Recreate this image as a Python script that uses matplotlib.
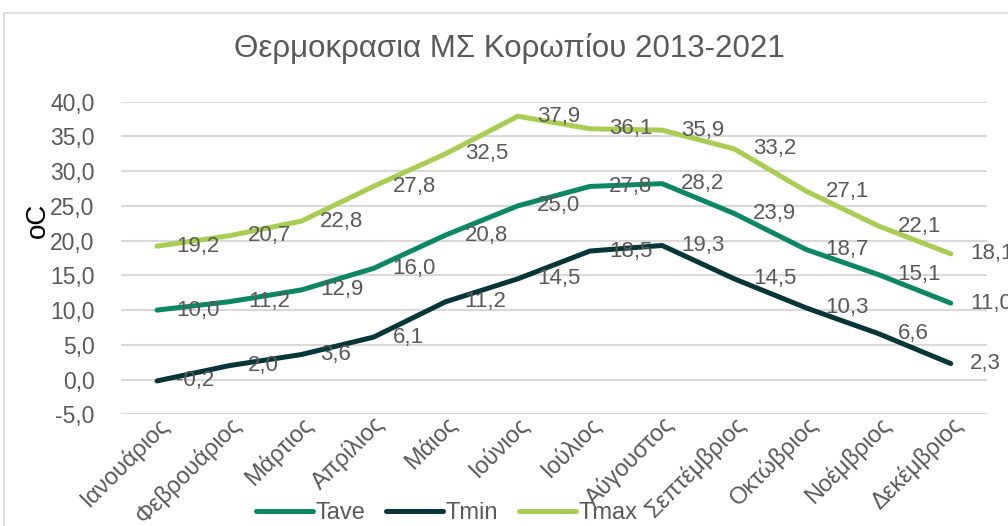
import numpy as np
import matplotlib
matplotlib.use("Agg")
import matplotlib.pyplot as plt
from matplotlib.patches import Rectangle

months = ['Ιανουάριος', 'Φεβρουάριος', 'Μάρτιος', 'Απρίλιος', 'Μάιος', 'Ιούνιος',
          'Ιούλιος', 'Αύγουστος', 'Σεπτέμβριος', 'Οκτώβριος', 'Νοέμβριος', 'Δεκέμβριος']
tave = [10.0, 11.2, 12.9, 16.0, 20.8, 25.0, 27.8, 28.2, 23.9, 18.7, 15.1, 11.0]
tmin = [-0.2, 2.0, 3.6, 6.1, 11.2, 14.5, 18.5, 19.3, 14.5, 10.3, 6.6, 2.3]
tmax = [19.2, 20.7, 22.8, 27.8, 32.5, 37.9, 36.1, 35.9, 33.2, 27.1, 22.1, 18.1]
yticks = [-5, 0, 5, 10, 15, 20, 25, 30, 35, 40]

series = [('Tave', tave, '#0c8765'), ('Tmin', tmin, '#06363a'), ('Tmax', tmax, '#a9cc52')]
txt = '#595959'
plt.rcParams['font.family'] = ['Liberation Sans', 'DejaVu Sans']

fig = plt.figure(figsize=(10.08, 5.26), dpi=100)
ax = fig.add_axes([0.120, 0.2124, 0.859, 0.5943])

# chart border (cropped in the reference)
fig.patches.append(Rectangle((4 / 1008, -0.2), 1.5, 1.2 - 13 / 526, transform=fig.transFigure,
                             fill=False, edgecolor='#d9d9d9', linewidth=1.2))

x = np.arange(len(months))
for name, vals, col in series:
    ax.plot(x, vals, color=col, linewidth=3.6, solid_capstyle='round',
            solid_joinstyle='round', label=name)
    for xi, v in zip(x, vals):
        ax.annotate(('%.1f' % v).replace('.', ','), (xi, v), xytext=(19, 0),
                    textcoords='offset pixels', ha='left', va='center',
                    fontsize=16, color=txt)

ax.set_xlim(-0.5, 11.5)
ax.set_ylim(-5, 40)
ax.set_yticks(yticks)
ax.set_yticklabels([('%.1f' % t).replace('.', ',') for t in yticks], fontsize=16.5, color=txt)
ax.set_xticks(x)
ax.set_xticklabels(months, rotation=45, ha='right', rotation_mode='anchor',
                   fontsize=17, color=txt)
ax.tick_params(length=0, axis='y', pad=19)
ax.tick_params(length=0, axis='x', pad=-1)
ax.grid(axis='y', color='#d9d9d9', linewidth=1.5)
ax.set_axisbelow(True)
for s in ax.spines.values():
    s.set_visible(False)

fig.text(0.038, 1 - 220 / 526, 'oC', rotation=90, fontsize=20, color='black',
         ha='center', va='center')
fig.text(0.505, 1 - 49 / 526, 'Θερμοκρασια ΜΣ Κορωπίου 2013-2021', fontsize=22.5,
         color=txt, ha='center', va='center')

leg = fig.legend(loc='center', bbox_to_anchor=(0.443, 13 / 526), ncol=3, frameon=False,
                 fontsize=17, handlelength=2.4, handletextpad=0.1, columnspacing=0.9,
                 labelcolor=txt)

fig.savefig('out.png', dpi=100)
